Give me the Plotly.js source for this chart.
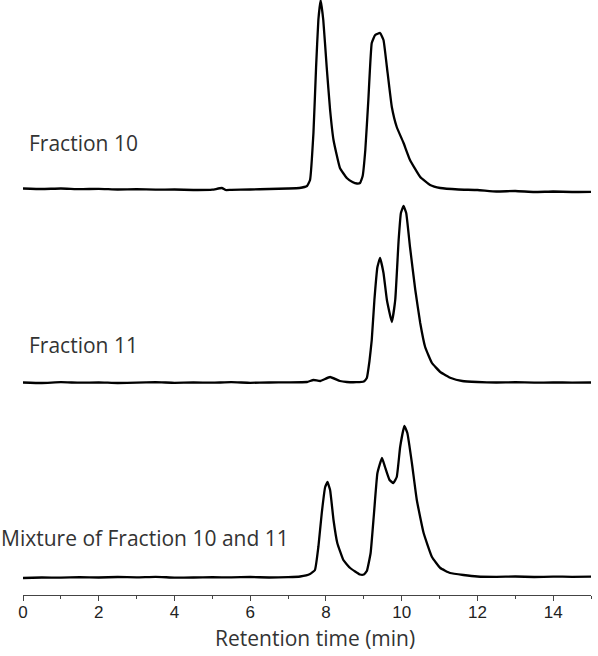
<!DOCTYPE html>
<html>
<head>
<meta charset="utf-8">
<script src="https://cdn.plot.ly/plotly-3.0.1.min.js"></script>
<style>html,body{margin:0;padding:0;background:#fff;}#chart{width:598px;height:656px;}</style>
</head>
<body>
<div id="chart"></div>
<script>
// Retention time (min) and detector signal (arbitrary units, above each trace's own baseline)
const timeF10 = [0,0.5,1,1.5,2,2.5,3,3.5,4,4.5,5,5.25,5.35,5.5,6,6.5,7,7.3,7.5,7.58,7.67,7.74,7.80,7.86,7.93,8.02,8.11,8.20,8.37,8.55,8.7,8.82,8.9,8.97,9.04,9.12,9.21,9.30,9.43,9.52,9.61,9.74,9.87,10.05,10.22,10.49,10.75,11.02,11.5,12,12.5,13,13.5,14,14.5,15];
const signalF10 = [1.5,1,1.5,0.8,1.2,0.5,0.8,0.3,0.5,0,0.3,2,0,0.2,0.5,1,1.5,2,4,10,57,123,170,190,170,123,80,50,22,12,8,6.5,7,14,40,90,147,155,157,150,123,83,63,47,30,13,5,2,0.5,0,-1.5,-1,-2,-1.5,-2,-1.8];

const timeF11 = [0,0.5,1,1.5,2,2.5,3,3.5,4,4.5,5,5.5,6,6.5,7,7.5,7.67,7.85,8.11,8.37,8.55,8.8,9.0,9.08,9.15,9.21,9.28,9.36,9.43,9.52,9.61,9.74,9.83,9.92,9.98,10.05,10.12,10.22,10.36,10.49,10.62,10.80,11.02,11.3,11.6,12,12.5,13,13.5,14,14.5,15];
const signalF11 = [0.5,0,0.8,0.3,0.6,0,0.4,0.8,0.2,0.5,0.3,0.8,0.2,0.5,0.6,1,3,2,6,2,1,0.8,1.5,5,22,43,83,116,125,110,83,61,83,143,170,177,170,136,93,60,36,20,11,5,2,1,0.5,0.8,0.3,0.6,0.4,0.5];

const timeMix = [0,0.5,1,1.5,2,2.5,3,3.5,4,4.5,5,5.5,6,6.5,7,7.32,7.58,7.71,7.80,7.89,7.98,8.04,8.11,8.20,8.30,8.46,8.64,8.90,9.0,9.08,9.18,9.27,9.36,9.48,9.56,9.68,9.78,9.87,9.96,10.07,10.15,10.27,10.40,10.58,10.80,11.02,11.28,11.63,12,12.5,13,13.5,14,14.5,15];
const signalMix = [0,0.5,0.3,0.8,0.5,1,0.6,1.2,0.4,0.5,0.8,0.6,1,0.5,0.8,1.5,4,8,31,65,91,96,88,58,35,18,10,3.5,3.5,7,25,65,105,120,111,98,95,101,131,152,145,115,78,45,21,10,5,3,1.5,1.2,1.5,1,1.4,1.2,1.3];

const seriesNames = ["Fraction 10", "Fraction 11", "Mixture of Fraction 10 and 11"];
const tickValues = [0,2,4,6,8,10,12,14];
const tickLabels = ["0","2","4","6","8","10","12","14"];
const xTitle = "Retention time (min)";

// vertical stacking offsets (display only)
const offsets = [405, 212, 17];
const series = [[timeF10, signalF10],[timeF11, signalF11],[timeMix, signalMix]];

const traces = series.map((s, i) => ({
  x: s[0],
  y: s[1].map(v => v + offsets[i]),
  type: 'scatter', mode: 'lines',
  line: {color: '#000', width: 2.3, shape: 'spline', smoothing: 0.35},
  cliponaxis: false,
  hoverinfo: 'skip', showlegend: false
}));

const labelY = [452, 250, 57];
const labelX = [0.007, 0.007, -0.042];
const annotations = seriesNames.map((n, i) => ({
  text: n, x: labelX[i], y: labelY[i], xref: 'paper', yref: 'y',
  xanchor: 'left', yanchor: 'middle', showarrow: false,
  font: {family: 'Open Sans', size: 21, color: '#333'}
}));
annotations.push({
  text: xTitle, x: 0.514, y: -0.072, xref: 'paper', yref: 'paper',
  xanchor: 'center', yanchor: 'middle', showarrow: false,
  font: {family: 'Open Sans', size: 21, color: '#333'}
});

const layout = {
  width: 598, height: 656,
  margin: {l: 23, r: 7, t: 0, b: 61},
  paper_bgcolor: '#fff', plot_bgcolor: '#fff',
  xaxis: {
    range: [0, 15], showgrid: false, zeroline: false,
    showline: true, linecolor: '#444', linewidth: 1,
    ticks: 'outside', ticklen: 5, tickcolor: '#444', tickwidth: 1,
    ticklabelstandoff: -3,
    tickvals: tickValues, ticktext: tickLabels,
    tickfont: {family: 'Liberation Sans', size: 17, color: '#222'},
    minor: {dtick: 1, tick0: 0, ticks: 'outside', ticklen: 3, tickcolor: '#444', showgrid: false}
  },
  yaxis: {range: [0, 595], visible: false, showgrid: false, zeroline: false},
  annotations: annotations
};

Plotly.newPlot('chart', traces, layout, {displayModeBar: false, staticPlot: true});
</script>
</body>
</html>
